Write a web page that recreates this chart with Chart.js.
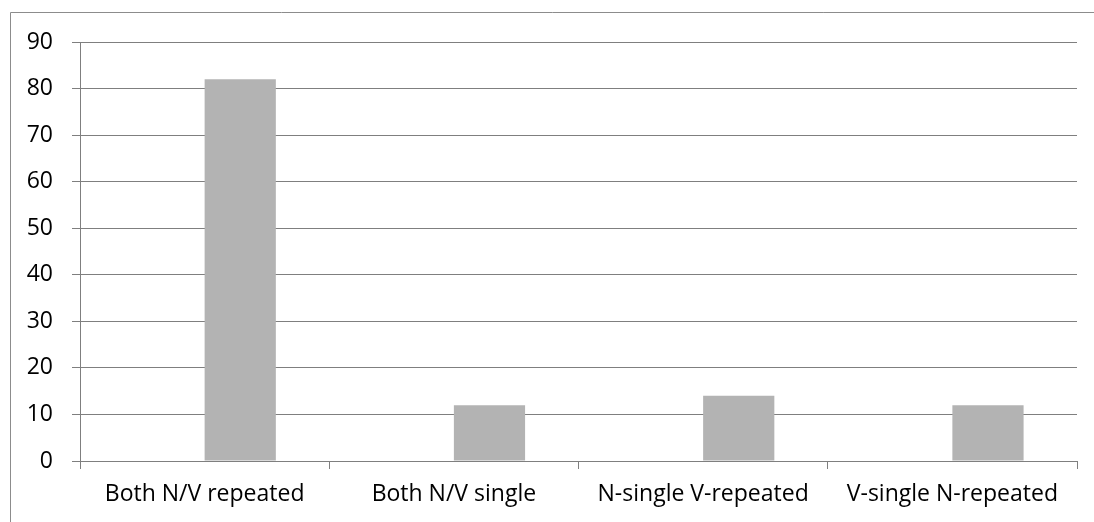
<!DOCTYPE html>
<html>
<head>
<meta charset="utf-8">
<script src="https://cdn.jsdelivr.net/npm/chart.js@4/dist/chart.umd.min.js"></script>
<style>
    html, body { margin: 0; padding: 0; background: #fff; }
    #wrap { position: relative; width: 1094px; height: 522px; }
</style>
</head>
<body>
<div id="wrap"><canvas id="chart" width="1094" height="522"></canvas></div>
<script>
    const categories = ["Both N/V repeated", "Both N/V single", "N-single V-repeated", "V-single N-repeated"];
    // first series is empty in every category, second holds the counts
    const series1 = [0, 0, 0, 0];
    const series2 = [82, 12, 14, 12];
    const yTicks = [0, 10, 20, 30, 40, 50, 60, 70, 80, 90];

    const gridColor = "#7f7f7f";
    const barColor = "#b3b3b3";

    Chart.defaults.font.family = "Open Sans";
    Chart.defaults.font.size = 23;
    Chart.defaults.color = "#000";

    // frame around the chart area (only top and left fall inside the window)
    const frame = {
        id: "frame",
        beforeDraw(chart) {
            const ctx = chart.ctx;
            ctx.save();
            ctx.strokeStyle = "#8c8c8c";
            ctx.lineWidth = 1;
            ctx.beginPath();
            ctx.moveTo(10.5, chart.height);
            ctx.lineTo(10.5, 12.5);
            ctx.lineTo(chart.width, 12.5);
            ctx.stroke();
            ctx.restore();
        }
    };

    new Chart(document.getElementById("chart"), {
        type: "bar",
        data: {
            labels: categories,
            datasets: [{
                label: "Series1",
                data: series1,
                backgroundColor: barColor,
                borderWidth: 0
            }, {
                label: "Series2",
                data: series2,
                backgroundColor: barColor,
                borderWidth: 0
            }]
        },
        options: {
            responsive: false,
            animation: false,
            events: [],
            categoryPercentage: 2 / 3.5,
            barPercentage: 1,
            layout: {
                padding: { top: 42, right: 17, left: 0, bottom: 0 }
            },
            scales: {
                x: {
                    afterFit: scale => { scale.height = 61; },
                    grid: {
                        display: true,
                        offset: true,
                        drawOnChartArea: false,
                        drawTicks: true,
                        tickLength: 8,
                        color: gridColor
                    },
                    border: { display: true, color: gridColor },
                    ticks: { padding: 12, maxRotation: 0, autoSkip: false }
                },
                y: {
                    min: yTicks[0],
                    max: yTicks[yTicks.length - 1],
                    afterFit: scale => { scale.width = 80; },
                    afterBuildTicks: scale => {
                        scale.ticks = yTicks.map(v => ({ value: v }));
                    },
                    grid: {
                        color: gridColor,
                        tickLength: 8,
                        drawTicks: true
                    },
                    border: { display: true, color: gridColor },
                    ticks: { padding: 19 }
                }
            },
            plugins: {
                legend: { display: false },
                tooltip: { enabled: false }
            }
        },
        plugins: [frame]
    });
</script>
</body>
</html>
